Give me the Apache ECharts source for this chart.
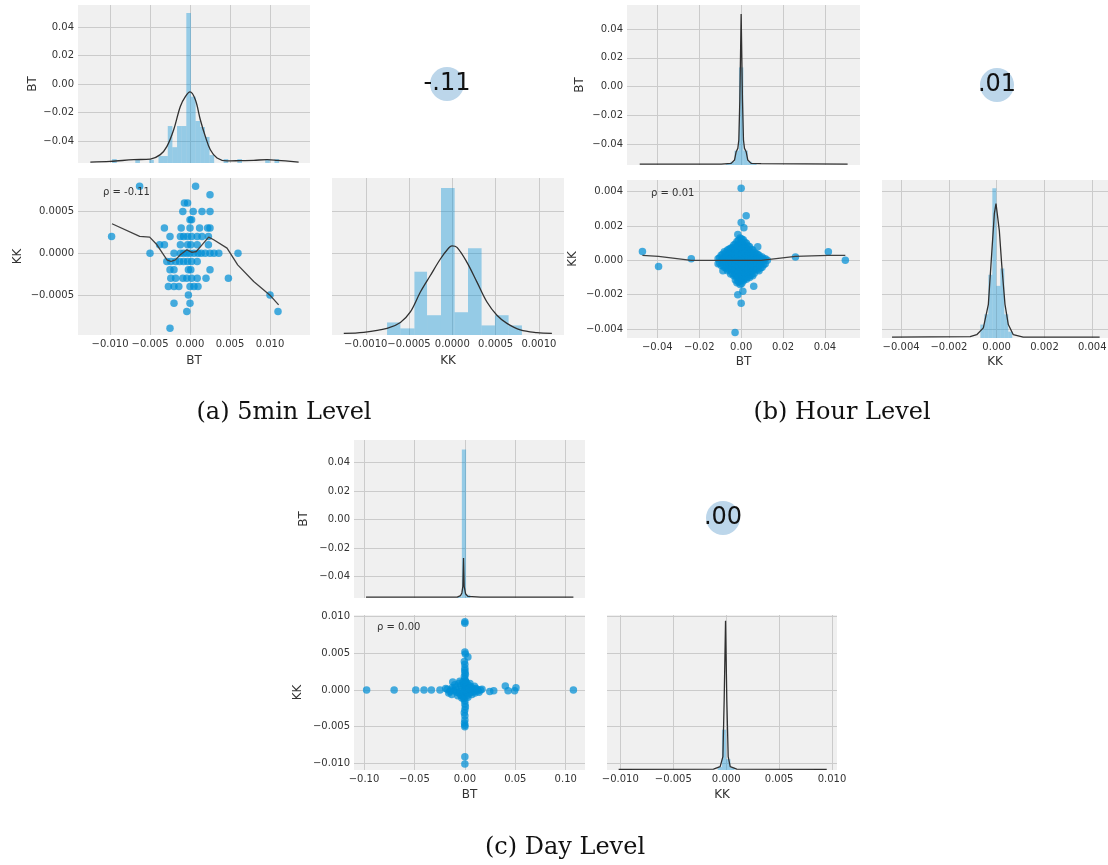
<!DOCTYPE html>
<html><head><meta charset="utf-8">
<script src="https://cdn.jsdelivr.net/npm/echarts@6/dist/echarts.min.js"></script>
<style>html,body{margin:0;padding:0;background:#fff}#c{width:1108px;height:865px}</style>
</head><body><div id="c"></div>
<script>
// ---------------- DATA ----------------
const captions = ['(a) 5min Level', '(b) Hour Level', '(c) Day Level'];
const corrLabels = ['-.11', '.01', '.00'];
const rhoLabels = ['\u03c1 = -0.11', '\u03c1 = 0.01', '\u03c1 = 0.00'];
const varNames = ['BT', 'KK'];

// Histograms: [binStart, binEnd, height (% of panel height)]
const histBT_a = [[-0.00974,-0.00916,2.5],[-0.00684,-0.00626,2.5],[-0.0051,-0.00452,2],[-0.00394,-0.00336,4.4],[-0.00336,-0.00278,4.4],[-0.00278,-0.0022,23.4],[-0.0022,-0.00162,10],[-0.00162,-0.00104,23.4],[-0.00104,-0.00046,23.4],[-0.00046,0.00012,95],[0.00012,0.0007,42],[0.0007,0.00128,26.6],[0.00128,0.00186,22.8],[0.00186,0.00244,16.5],[0.00244,0.00302,5],[0.0042,0.00478,2.5],[0.00592,0.0065,2.5],[0.0094,0.00998,2.5],[0.01056,0.01114,2.5]];
const kdeBT_a = [[-0.01246,0.6],[-0.00996,1.05],[-0.00704,2.1],[-0.00496,2.5],[-0.00371,5.3],[-0.00288,10.5],[-0.00204,21],[-0.00121,35.8],[-0.00058,42],[0,45],[0.00067,40],[0.00129,27.4],[0.00192,16.8],[0.00254,8.4],[0.00338,3.2],[0.00463,1.3],[0.00629,1.5],[0.00796,1.7],[0.00963,2.1],[0.01088,1.7],[0.01358,0.6]];
const histKK_a = [[-0.000754,-0.0006,8],[-0.0006,-0.000438,4.2],[-0.000438,-0.000292,40.3],[-0.000292,-0.000131,12.6],[-0.000131,0.000027,93.7],[0.000027,0.000181,14.5],[0.000181,0.000338,55.2],[0.000338,0.000492,6.1],[0.000492,0.00065,12.6],[0.00065,0.000804,6.1]];
const kdeKK_a = [[-0.001254,1.05],[-0.001023,1.7],[-0.000754,4.2],[-0.0006,8],[-0.000485,14.7],[-0.000369,27.4],[-0.000254,37.9],[-0.000138,48.4],[-0.000042,55.4],[-0.000004,56.8],[0.000054,55.8],[0.000169,46.3],[0.000285,33.7],[0.0004,21],[0.000515,12.6],[0.000631,7.4],[0.000785,3.2],[0.000977,1.5],[0.00115,1.05]];
const scatter_a = [[-0.0063,0.0008],[0.0007,0.0008],[0.0025,0.0007],[-0.0007,0.0006],[-0.0003,0.0006],[-0.0009,0.0005],[0.0004,0.0005],[0.0015,0.0005],[0.0025,0.0005],[0,0.0004],[0.0002,0.0004],[-0.0032,0.0003],[-0.0011,0.0003],[0,0.0003],[0.0012,0.0003],[0.0022,0.0003],[0.0025,0.0003],[-0.0098,0.0002],[-0.0025,0.0002],[-0.0012,0.0002],[-0.0008,0.0002],[-0.0003,0.0002],[0.0002,0.0002],[0.0009,0.0002],[0.0015,0.0002],[0.0023,0.0002],[-0.0038,0.0001],[-0.0032,0.0001],[-0.0012,0.0001],[-0.0003,0.0001],[0.0001,0.0001],[0.0009,0.0001],[0.0023,0.0001],[-0.005,0],[-0.002,0],[-0.0012,0],[-0.0008,0],[-0.0004,0],[0,0],[0.0005,0],[0.001,0],[0.0014,0],[0.0019,0],[0.0025,0],[0.003,0],[0.0036,0],[0.006,0],[-0.0029,-0.0001],[-0.0024,-0.0001],[-0.0018,-0.0001],[-0.0013,-0.0001],[-0.0008,-0.0001],[-0.0003,-0.0001],[0.0002,-0.0001],[0.0009,-0.0001],[-0.0025,-0.0002],[-0.002,-0.0002],[-0.0002,-0.0002],[0.0001,-0.0002],[0.0025,-0.0002],[-0.0024,-0.0003],[-0.0018,-0.0003],[-0.0009,-0.0003],[-0.0004,-0.0003],[0.0002,-0.0003],[0.0009,-0.0003],[0.002,-0.0003],[0.0048,-0.0003],[-0.0027,-0.0004],[-0.002,-0.0004],[-0.0014,-0.0004],[0,-0.0004],[0.0005,-0.0004],[0.001,-0.0004],[-0.0002,-0.0005],[0.01,-0.0005],[-0.002,-0.0006],[0,-0.0006],[-0.0004,-0.0007],[0.011,-0.0007],[-0.0025,-0.0009]];
const lowess_a = [[-0.00975,0.000352],[-0.00629,0.0002],[-0.00504,0.000192],[-0.00413,0.0001],[-0.00288,-0.00008],[-0.00238,-0.0001],[-0.00183,-0.00008],[-0.00121,-0.00002],[-0.00038,0.00004],[0.00025,0.00001],[0.00079,0.00002],[0.0015,0.0001],[0.00233,0.000192],[0.00296,0.00016],[0.00463,0.00006],[0.00596,-0.00014],[0.00796,-0.00034],[0.00996,-0.0005],[0.01108,-0.00062]];

const histBT_b = [[-0.00735,-0.00525,0.8],[-0.00525,-0.00315,2],[-0.00315,-0.00105,9],[-0.00105,0.00105,61],[0.00105,0.00315,9],[0.00315,0.00525,2],[0.00525,0.00735,1]];
const kdeBT_b = [[-0.0484,0.6],[-0.00952,0.6],[-0.00476,1],[-0.00317,3.1],[-0.00238,8.3],[-0.00159,10.4],[-0.00111,15.6],[-0.00063,40.6],[0,94.4],[0.00063,40.6],[0.00111,15.6],[0.00159,10.4],[0.00238,8.3],[0.00317,3.1],[0.00476,1],[0.00952,0.8],[0.0508,0.6]];
const histKK_b = [[-0.000682,-0.000515,8.5],[-0.000515,-0.000348,15],[-0.000348,-0.000181,40],[-0.000181,-0.000014,94.7],[-0.000014,0.000153,33],[0.000153,0.00032,44],[0.00032,0.000487,15],[0.000487,0.000654,4]];
const kdeKK_b = [[-0.00438,0.6],[-0.00111,0.9],[-0.000835,2.1],[-0.000557,6.4],[-0.000348,21.3],[-0.000209,53.2],[-0.000097,78.7],[-0.000028,85.1],[0.000028,84],[0.000111,68],[0.000209,46.8],[0.000348,21.3],[0.000487,8.5],[0.000696,2.1],[0.00111,0.6],[0.00431,0.6]];
const scatter_b = [[-0.0471,0.00052],[-0.0394,-0.00035],[-0.0238,0.0001],[0,0.0042],[0.0024,0.0026],[0,0.0022],[0.0013,0.0019],[-0.0016,0.0015],[0.0259,0.0002],[0.0416,0.0005],[0.0497,0],[0.006,-0.0015],[0.0008,-0.0018],[-0.0016,-0.002],[0,-0.0025],[-0.0029,-0.0042],[-0.0087,-0.0006],[0.0079,0.0008],
[-0.011,0.0001],[-0.011,-0.0002],
[-0.0095,0.0003],[-0.0095,0],[-0.0095,-0.0003],
[-0.008,0.0005],[-0.008,0.0002],[-0.008,-0.0001],[-0.008,-0.0004],
[-0.0065,0.0006],[-0.0065,0.0003],[-0.0065,0],[-0.0065,-0.0003],[-0.0065,-0.0006],
[-0.005,0.0007],[-0.005,0.0004],[-0.005,0.0001],[-0.005,-0.0002],[-0.005,-0.0005],[-0.005,-0.0008],
[-0.0035,0.0009],[-0.0035,0.0006],[-0.0035,0.0003],[-0.0035,0],[-0.0035,-0.0003],[-0.0035,-0.0006],[-0.0035,-0.0009],
[-0.002,0.0011],[-0.002,0.0008],[-0.002,0.0005],[-0.002,0.0002],[-0.002,-0.0001],[-0.002,-0.0004],[-0.002,-0.0007],[-0.002,-0.001],[-0.002,-0.0013],
[-0.0005,0.0013],[-0.0005,0.001],[-0.0005,0.0007],[-0.0005,0.0004],[-0.0005,0.0001],[-0.0005,-0.0002],[-0.0005,-0.0005],[-0.0005,-0.0008],[-0.0005,-0.0011],[-0.0005,-0.0014],
[0.001,0.0012],[0.001,0.0009],[0.001,0.0006],[0.001,0.0003],[0.001,0],[0.001,-0.0003],[0.001,-0.0006],[0.001,-0.0009],[0.001,-0.0012],
[0.0025,0.001],[0.0025,0.0007],[0.0025,0.0004],[0.0025,0.0001],[0.0025,-0.0002],[0.0025,-0.0005],[0.0025,-0.0008],[0.0025,-0.0011],
[0.004,0.0008],[0.004,0.0005],[0.004,0.0002],[0.004,-0.0001],[0.004,-0.0004],[0.004,-0.0007],[0.004,-0.001],
[0.0055,0.0006],[0.0055,0.0003],[0.0055,0],[0.0055,-0.0003],[0.0055,-0.0006],[0.0055,-0.0009],
[0.007,0.0004],[0.007,0.0001],[0.007,-0.0002],[0.007,-0.0005],
[0.0085,0.0003],[0.0085,0],[0.0085,-0.0003],[0.0085,-0.0006],
[0.01,0.0002],[0.01,-0.0001],[0.01,-0.0004],
[0.0115,0.0001],[0.0115,-0.0002],[0.0125,0],
[-0.01025,0.00015],[-0.01025,-0.00015],
[-0.00875,0.00035],[-0.00875,0.00005],[-0.00875,-0.00025],
[-0.00725,0.00045],[-0.00725,0.00015],[-0.00725,-0.00015],[-0.00725,-0.00045],
[-0.00575,0.00065],[-0.00575,0.00035],[-0.00575,0.00005],[-0.00575,-0.00025],[-0.00575,-0.00055],
[-0.00425,0.00075],[-0.00425,0.00045],[-0.00425,0.00015],[-0.00425,-0.00015],[-0.00425,-0.00045],[-0.00425,-0.00075],
[-0.00275,0.00095],[-0.00275,0.00065],[-0.00275,0.00035],[-0.00275,0.00005],[-0.00275,-0.00025],[-0.00275,-0.00055],[-0.00275,-0.00085],[-0.00275,-0.00115],
[-0.00125,0.00115],[-0.00125,0.00085],[-0.00125,0.00055],[-0.00125,0.00025],[-0.00125,-0.00005],[-0.00125,-0.00035],[-0.00125,-0.00065],[-0.00125,-0.00095],[-0.00125,-0.00125],
[0.00025,0.00125],[0.00025,0.00095],[0.00025,0.00065],[0.00025,0.00035],[0.00025,0.00005],[0.00025,-0.00025],[0.00025,-0.00055],[0.00025,-0.00085],[0.00025,-0.00115],[0.00025,-0.00135],
[0.00175,0.00105],[0.00175,0.00075],[0.00175,0.00045],[0.00175,0.00015],[0.00175,-0.00015],[0.00175,-0.00045],[0.00175,-0.00075],[0.00175,-0.00105],
[0.00325,0.00085],[0.00325,0.00055],[0.00325,0.00025],[0.00325,-0.00005],[0.00325,-0.00035],[0.00325,-0.00065],[0.00325,-0.00095],
[0.00475,0.00065],[0.00475,0.00035],[0.00475,0.00005],[0.00475,-0.00025],[0.00475,-0.00055],[0.00475,-0.00085],
[0.00625,0.00045],[0.00625,0.00015],[0.00625,-0.00015],[0.00625,-0.00045],[0.00625,-0.00075],
[0.00775,0.00035],[0.00775,0.00005],[0.00775,-0.00025],[0.00775,-0.00055],
[0.00925,0.00015],[0.00925,-0.00015],[0.00925,-0.00045],
[0.01075,0.00005],[0.01075,-0.00025]];
const lowess_b = [[-0.0471,0.00029],[-0.0394,0.00023],[-0.0238,0],[0,0],[0.0095,0],[0.0259,0.00023],[0.0416,0.00029],[0.0497,0.00029]];

const histBT_c = [[-0.0072,-0.003,1],[-0.003,0.0012,94],[0.0012,0.0054,2]];
const kdeBT_c = [[-0.098,0.6],[-0.00757,0.6],[-0.00428,1.5],[-0.00296,3.2],[-0.00197,7.4],[-0.00132,25.3],[-0.00066,7.4],[0.00066,2.7],[0.00296,1],[0.0155,0.6],[0.1076,0.6]];
const histKK_c = [[-0.0008,-0.0004,2],[-0.0004,0,26],[0,0.0004,7],[0.0004,0.0008,1.5]];
const kdeKK_c = [[-0.01016,0.4],[-0.0012,0.6],[-0.00057,2.2],[-0.00031,8.6],[-0.00019,45],[-0.00006,96.3],[0.00006,45],[0.00019,8.6],[0.00038,2.2],[0.001,0.6],[0.0095,0.4]];
const scatter_c = [[-0.0974,0],[-0.0701,0],[-0.0487,0],[-0.0405,0],[-0.0332,0],[-0.0247,0],[-0.0175,0.0001],[-0.015,-0.0002],[-0.0125,0.0003],[-0.011,-0.0001],[-0.009,0.0004],[-0.008,-0.0003],[-0.012,0.0011],
[0.0247,-0.0002],[0.0286,-0.0001],[0.0401,0.00055],[0.0428,-0.0001],[0.0493,-0.0001],[0.0507,0.0003],[0.1076,0],[0.0155,0],[0.013,-0.0001],[0.011,0.0002],
[0,0.0093],[0,0.0091],[0,0.0052],[0.0005,0.0049],[0.003,0.0045],[-0.0005,0.0039],[0,0.0035],[0,0.003],[0,0.0027],[0,0.0024],[0.0005,0.0021],[-0.0005,0.0018],[0,0.0015],[0.0005,0.0012],[-0.001,-0.0012],[0,-0.0015],[0,-0.0019],[0.0005,-0.0023],[0,-0.0027],[-0.0005,-0.0031],[0,-0.0035],[0,-0.0041],[-0.0003,-0.0045],[0,-0.0048],[0,-0.005],[0,-0.0091],[0,-0.0101],
[-0.006,0.0009],[-0.004,0.0006],[-0.002,0.0011],[0.002,0.0009],[0.004,0.0006],[0.006,0.0004],[0.008,0.0002],[-0.006,-0.0004],[-0.004,-0.0007],[-0.002,-0.0009],[0.002,-0.0008],[0.004,-0.0005],[0.006,-0.0003],[0.009,-0.0002],[-0.003,0.0002],[0.003,0.0001],[-0.001,0.0004],[0.001,-0.0003],[0,0.0007],[0,-0.0007],[0,0],[-0.0015,-0.0003],[0.0015,0.0004],[0.012,0.0001],[-0.014,0],
[-0.019,0.0002],[-0.016,-0.0004],[-0.013,-0.0006],[-0.01,0.0007],[-0.007,-0.0008],[-0.005,0.0012],[-0.003,-0.0011],[-0.001,0.0009],[0.001,0.0011],[0.003,-0.001],[0.005,0.0009],[0.007,-0.0006],[0.01,-0.0004],[0.0095,0.0005],[0.014,-0.0003],[0.017,0.0001],[-0.0085,0],[0.0065,0],[-0.0045,-0.0002],[0.0045,0.0002]];

// ---------------- LAYOUT / STYLE ----------------
const FONT = 'DejaVu Sans';
const BLUE = '#008fd5';
const TXT = '#333333';
function fmt(d) { return v => { if (Math.abs(v) < 1e-12) v = 0; return (v < 0 ? '\u2212' : '') + Math.abs(v).toFixed(d); }; }

const P = [
  { // (a)
    hist: {left:78, top:5, width:232, height:158}, sc: {left:78, top:178, width:232, height:157}, kk: {left:332, top:178, width:232, height:157},
    bt: [-0.014, 0.015, 0.005, 3], bty: [-0.0555, 0.0556, 0.02, 2], kky: [-0.00098, 0.0009, 0.0005, 4], kkx: [-0.00139, 0.00129, 0.0005, 4],
    gaps: {histY:39, scY:54, scX:20, kkX:20},
    hBT: histBT_a, dBT: kdeBT_a, hKK: histKK_a, dKK: kdeKK_a, pts: scatter_a, low: lowess_a, smooth: 0.35,
    text: [447, 84], rho: [103, 192], cap: [284, 413]
  },
  { // (b)
    hist: {left:627, top:5, width:233, height:160}, sc: {left:627, top:180, width:233, height:158}, kk: {left:882, top:180, width:226, height:158},
    bt: [-0.05446, 0.0567, 0.02, 2], bty: [-0.05446, 0.0567, 0.02, 2], kky: [-0.00452, 0.00468, 0.002, 3], kkx: [-0.0048, 0.00466, 0.002, 3],
    gaps: {histY:41, scY:48, scX:18, kkX:18},
    hBT: histBT_b, dBT: kdeBT_b, hKK: histKK_b, dKK: kdeKK_b, pts: scatter_b, low: lowess_b, smooth: false,
    text: [997, 85], rho: [651, 193], cap: [842, 413]
  },
  { // (c)
    hist: {left:354, top:440, width:231, height:158}, sc: {left:354, top:615, width:231, height:155}, kk: {left:607, top:615, width:230, height:155},
    bt: [-0.1099, 0.1191, 0.05, 2], bty: [-0.0552, 0.0559, 0.02, 2], kky: [-0.01091, 0.01023, 0.005, 3], kkx: [-0.01126, 0.01047, 0.005, 3],
    gaps: {histY:44, scY:50, scX:19, kkX:19},
    hBT: histBT_c, dBT: kdeBT_c, hKK: histKK_c, dKK: kdeKK_c, pts: scatter_c, low: null, smooth: false,
    text: [723, 518], rho: [377, 627], cap: [565, 848]
  }
];

function vAxis(grid, spec, showLabel, extra) {
  const [min, max, step, dec] = spec;
  return Object.assign({
    type: 'value', gridIndex: grid, min: min, max: max, minInterval: step, maxInterval: step, splitNumber: 5,
    axisLine: {show: false}, axisTick: {show: false},
    splitLine: {show: true, showMinLine: false, showMaxLine: false, lineStyle: {color: '#cbcbcb', width: 1}},
    axisLabel: {show: showLabel, fontFamily: FONT, fontSize: 10, color: TXT, margin: 4, showMinLabel: false, showMaxLabel: false, formatter: fmt(dec)},
    nameLocation: 'middle',
    nameTextStyle: {fontFamily: FONT, fontSize: 12, color: TXT}
  }, extra || {});
}
function gridOf(r) { return Object.assign({show: true, backgroundColor: '#f0f0f0', borderWidth: 0, containLabel: false, outerBoundsMode: 'none'}, r); }

const grids = [], xAxes = [], yAxes = [], series = [], graphics = [];
const densAxes = [];
function histRender(params, api) {
  const p0 = api.coord([api.value(0), 0]);
  const p1 = api.coord([api.value(1), api.value(2)]);
  return {type: 'rect', shape: {x: p0[0], y: p1[1], width: p1[0] - p0[0], height: p0[1] - p1[1]}, style: {fill: BLUE, opacity: 0.38}};
}

P.forEach((p, i) => {
  const g0 = grids.length;
  grids.push(gridOf(p.hist), gridOf(p.sc), gridOf(p.kk));
  xAxes.push(vAxis(g0, p.bt, false));
  yAxes.push(vAxis(g0, p.bty, true, {name: varNames[0], nameGap: p.gaps.histY}));
  xAxes.push(vAxis(g0 + 1, p.bt, true, {name: varNames[0], nameGap: p.gaps.scX}));
  yAxes.push(vAxis(g0 + 1, p.kky, true, {name: varNames[1], nameGap: p.gaps.scY}));
  xAxes.push(vAxis(g0 + 2, p.kkx, true, {name: varNames[1], nameGap: p.gaps.kkX}));
  yAxes.push(vAxis(g0 + 2, p.kky, false));
  densAxes.push({g: g0, i: i, kind: 'BT'}, {g: g0 + 2, i: i, kind: 'KK'});
});
densAxes.forEach(d => {
  const yi = yAxes.length;
  yAxes.push({type: 'value', gridIndex: d.g, min: 0, max: 100, show: false});
  const p = P[d.i];
  const h = d.kind === 'BT' ? p.hBT : p.hKK;
  const k = d.kind === 'BT' ? p.dBT : p.dKK;
  series.push({type: 'custom', xAxisIndex: d.g, yAxisIndex: yi, renderItem: histRender, encode: {x: [0, 1], y: 2}, data: h, z: 2, silent: true});
  series.push({type: 'line', xAxisIndex: d.g, yAxisIndex: yi, data: k, showSymbol: false, smooth: p.smooth, lineStyle: {color: '#303030', width: 1.3}, z: 3, silent: true});
});
P.forEach((p, i) => {
  const g = i * 3 + 1;
  series.push({type: 'scatter', xAxisIndex: g, yAxisIndex: g, data: p.pts, symbolSize: 7.5, itemStyle: {color: BLUE, opacity: 0.72}, z: 2, silent: true});
  if (p.low) series.push({type: 'line', xAxisIndex: g, yAxisIndex: g, data: p.low, showSymbol: false, lineStyle: {color: '#404040', width: 1.3}, z: 3, silent: true});
  graphics.push({type: 'circle', shape: {cx: p.text[0], cy: p.text[1], r: 17}, style: {fill: '#bcd6ea'}, z: 1});
  graphics.push({type: 'text', x: p.text[0], y: p.text[1], style: {text: corrLabels[i], font: '24px "DejaVu Sans"', fill: '#111', textAlign: 'center', textVerticalAlign: 'middle'}, z: 2});
  graphics.push({type: 'text', x: p.rho[0], y: p.rho[1], style: {text: rhoLabels[i], font: '10px "DejaVu Sans"', fill: TXT, textAlign: 'left', textVerticalAlign: 'middle'}, z: 10});
  graphics.push({type: 'text', x: p.cap[0], y: p.cap[1], style: {text: captions[i], font: '24px "DejaVu Serif"', fill: '#111', textAlign: 'center', textVerticalAlign: 'middle'}, z: 10});
});

const chart = echarts.init(document.getElementById('c'), null, {renderer: 'canvas'});
chart.setOption({
  animation: false,
  backgroundColor: '#ffffff',
  grid: grids, xAxis: xAxes, yAxis: yAxes, series: series,
  graphic: {elements: graphics}
});
</script></body></html>
